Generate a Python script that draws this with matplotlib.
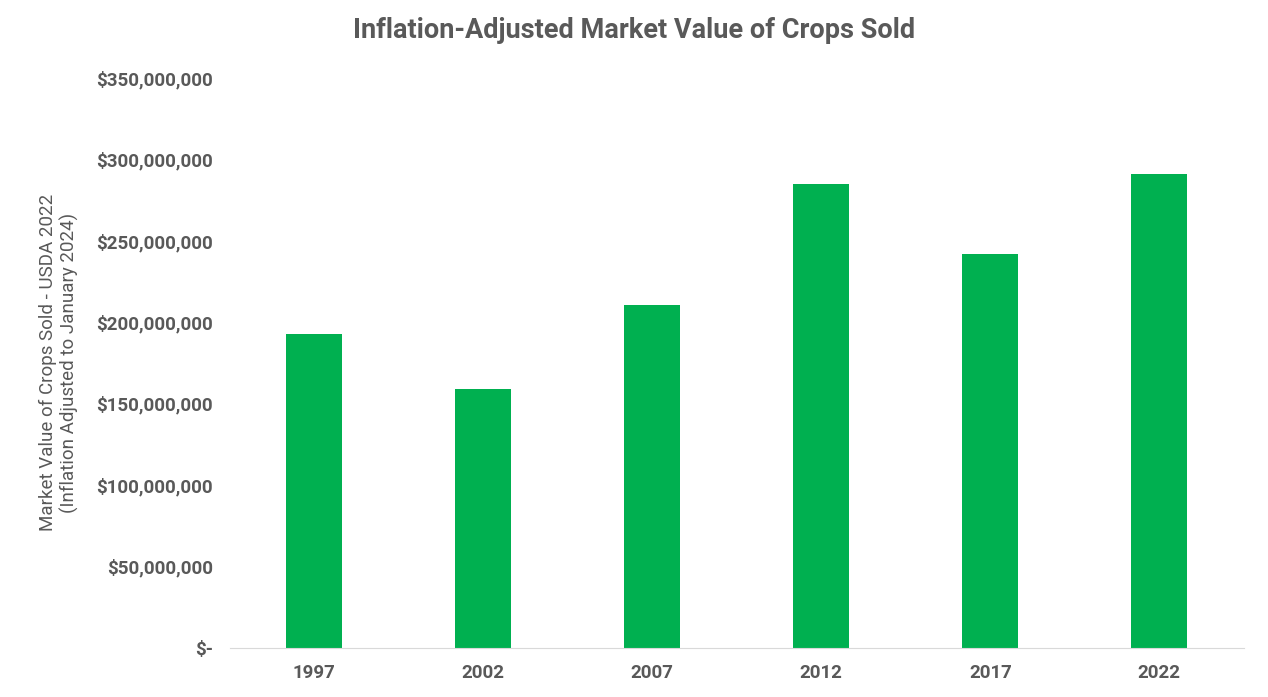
import matplotlib
matplotlib.use("Agg")
import matplotlib.pyplot as plt
from matplotlib.ticker import FuncFormatter

years = ["1997", "2002", "2007", "2012", "2017", "2022"]
values = [192.5e6, 158.7e6, 210.4e6, 284.8e6, 241.7e6, 291.0e6]

plt.rcParams['font.family'] = ['Roboto', 'DejaVu Sans']
fig = plt.figure(figsize=(12.68, 6.97), dpi=100)
ax = fig.add_axes([0.181, 0.071, 0.800, 0.817])
ax.bar(years, values, width=0.33, color="#00B050")
ax.set_ylim(0, 350e6)
ax.set_yticks(range(0, 350000001, 50000000))
ax.yaxis.set_major_formatter(FuncFormatter(lambda v, p: "$-" if v == 0 else f"${v:,.0f}"))
for s in ["top", "right", "left"]:
    ax.spines[s].set_visible(False)
ax.spines["bottom"].set_color("#D9D9D9")
ax.tick_params(length=0, labelsize=13.5, colors="#595959", pad=12)
for lbl in ax.get_xticklabels() + ax.get_yticklabels():
    lbl.set_fontweight("bold")
ax.set_ylabel("Market Value of Crops Sold - USDA 2022\n(Inflation Adjusted to January 2024)",
              fontsize=13.5, color="#595959", labelpad=12)
ax.set_xlim(-0.5, 5.5)
fig.suptitle("Inflation-Adjusted Market Value of Crops Sold", fontsize=19.5,
             fontweight="bold", color="#595959", y=0.975)
fig.savefig("out.png")
